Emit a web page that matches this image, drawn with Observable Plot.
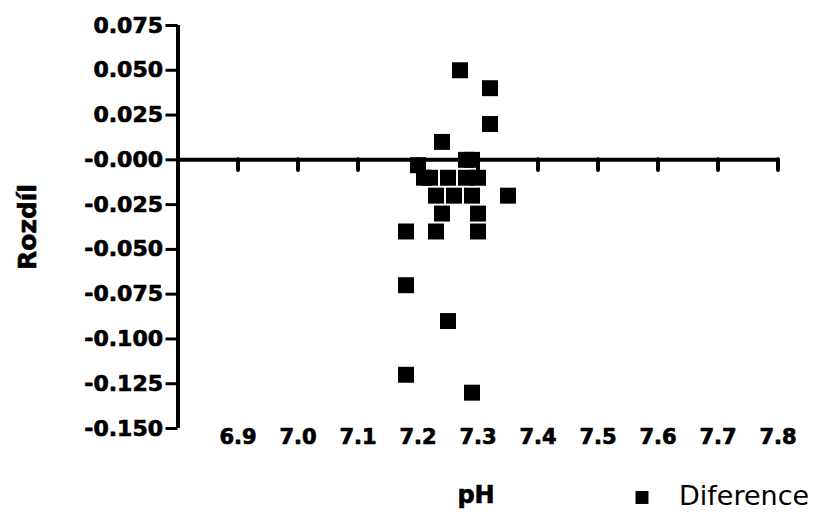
<!DOCTYPE html>
<html>
<head>
<meta charset="utf-8">
<script src="https://cdn.jsdelivr.net/npm/d3@7"></script>
<script src="https://cdn.jsdelivr.net/npm/@observablehq/plot@0.6"></script>
<style>
  html, body { margin: 0; padding: 0; background: #fff; }
</style>
</head>
<body>
<div id="chart"></div>
<script>
const seriesName = "Diference";
const xLabel = "pH";
const yLabel = "Rozdíl";

const pH = [7.27, 7.32, 7.32, 7.24, 7.28, 7.29, 7.20, 7.21, 7.22, 7.25, 7.28, 7.30,
            7.23, 7.26, 7.29, 7.35, 7.24, 7.30, 7.18, 7.23, 7.30, 7.18, 7.25, 7.18, 7.29];
const diff = [0.05, 0.04, 0.02, 0.01, 0.00, 0.00, -0.003, -0.01, -0.01, -0.01, -0.01, -0.01,
              -0.02, -0.02, -0.02, -0.02, -0.03, -0.03, -0.04, -0.04, -0.04, -0.07, -0.09, -0.12, -0.13];

const xTicks = [6.9, 7.0, 7.1, 7.2, 7.3, 7.4, 7.5, 7.6, 7.7, 7.8];
const xTickLabels = ["6.9", "7.0", "7.1", "7.2", "7.3", "7.4", "7.5", "7.6", "7.7", "7.8"];
const yTicks = [-0.15, -0.125, -0.1, -0.075, -0.05, -0.025, 0, 0.025, 0.05, 0.075];
const yTickLabels = ["-0.150", "-0.125", "-0.100", "-0.075", "-0.050", "-0.025", "-0.000", "0.025", "0.050", "0.075"];

const data = pH.map((x, i) => ({pH: x, diff: diff[i]}));
const xLab = new Map(xTicks.map((t, i) => [t, xTickLabels[i]]));
const yLab = new Map(yTicks.map((t, i) => [t, yTickLabels[i]]));

const font = "DejaVu Sans";

const chart = Plot.plot({
  width: 826,
  height: 514,
  marginLeft: 177.5,
  marginRight: 48.5,
  marginTop: 25,
  marginBottom: 86,
  style: {fontFamily: font, color: "#000", background: "#fff"},
  x: {domain: [6.8, 7.8]},
  y: {domain: [-0.15, 0.075]},
  marks: [
    Plot.axisY({
      ticks: yTicks, tickFormat: d => yLab.get(d), tickSize: 12, tickPadding: 3,
      strokeWidth: 3, fontSize: 22, fontWeight: "bold", fontFamily: font, label: null,
      textStroke: "#000", textStrokeWidth: 0.7
    }),
    Plot.axisX({
      anchor: "bottom", ticks: xTicks, tickFormat: d => xLab.get(d), tickSize: 0, tickPadding: 1,
      fontSize: 21, fontWeight: "bold", fontFamily: font, label: null,
      textStroke: "#000", textStrokeWidth: 0.7
    }),
    Plot.ruleX([6.8], {stroke: "#000", strokeWidth: 4}),
    Plot.ruleY([0], {stroke: "#000", strokeWidth: 4}),
    Plot.ruleX(xTicks, {x: d => d, y1: 0, y2: -0.006, stroke: "#000", strokeWidth: 4, strokeLinecap: "round"}),
    Plot.dot(data, {x: "pH", y: "diff", symbol: "square", r: 9, fill: "#000", stroke: null}),
    Plot.text([yLabel], {frameAnchor: "left", textAnchor: "middle", dx: -150, rotate: -90, fontSize: 25, fontWeight: "bold", fontFamily: font, fill: "#000", stroke: "#000", strokeWidth: 0.6}),
    Plot.text([xLabel], {frameAnchor: "bottom", textAnchor: "middle", dx: -2, dy: 74, fontSize: 24, fontWeight: "bold", fontFamily: font, fill: "#000", stroke: "#000", strokeWidth: 0.6}),
    Plot.dot([seriesName], {frameAnchor: "bottom", dx: 164, dy: 69, symbol: "square", r: 7.3, fill: "#000", stroke: null}),
    Plot.text([seriesName], {frameAnchor: "bottom", textAnchor: "start", dx: 201, dy: 76, fontSize: 27, fontFamily: font, fill: "#000"})
  ]
});

document.getElementById("chart").append(chart);
</script>
</body>
</html>
